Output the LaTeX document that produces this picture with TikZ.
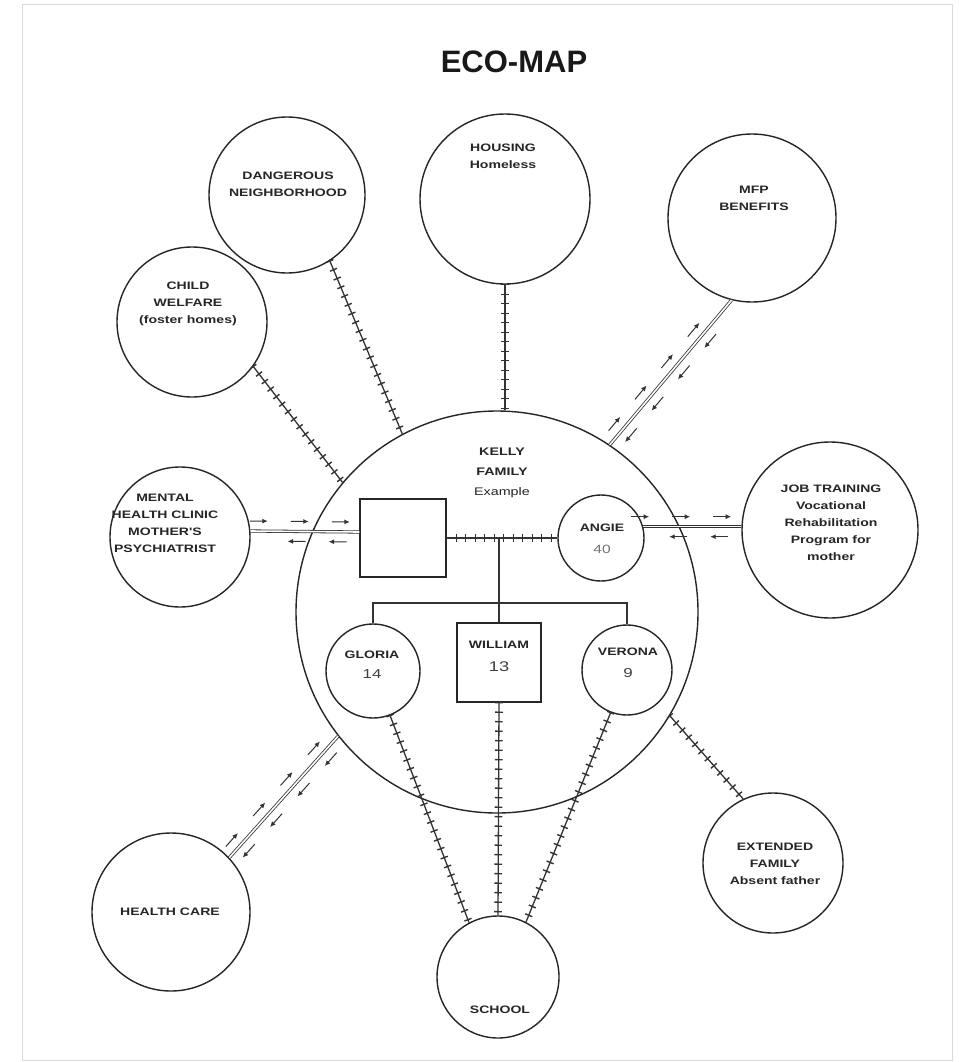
\documentclass[tikz,border=0pt]{standalone}
\usepackage{fontspec}
\setmainfont{Liberation Sans}
\newfontfamily\lab[FakeStretch=1.3]{Liberation Sans}
\usetikzlibrary{decorations.pathreplacing,decorations.markings,arrows.meta}
\begin{document}
\begin{tikzpicture}[x=1pt,y=-1pt,
  circ/.style={draw=black!85, line width=1.4pt, circle, minimum size=#1, inner sep=0pt},
  box/.style={draw=black!85, line width=1.4pt, rectangle, minimum width=#1, inner sep=0pt},
  lbl/.style={font=\lab\bfseries\fontsize{10.8}{17}\selectfont, align=center, text=black!85, inner sep=0pt},
  num/.style={font=\lab\fontsize{12}{14}\selectfont, text=black!75, inner sep=0pt},
  stress/.style={draw=black!80, line width=1.3pt,
    postaction={draw, line width=1.4pt, decorate, decoration={ticks, segment length=9.5pt, amplitude=3.8pt}}},
  energy/.style 2 args={
    preaction={draw=black!80, line width=0.8pt, double distance=1.6pt},
    postaction={decorate, decoration={markings,
      mark=between positions #1 and -3pt step 41pt with {\draw[-{Latex[length=5.5pt,width=5pt]}, line width=1pt, black!80] (-18pt,10pt) -- (0pt,10pt);},
      mark=between positions #2 and -18pt step 41pt with {\draw[-{Latex[length=5.5pt,width=5pt]}, line width=1pt, black!80] (18pt,-10pt) -- (0pt,-10pt);}}}},
]
\useasboundingbox (0,0) rectangle (958,1062);
\fill[white] (0,0) rectangle (958,1062);
\draw[black!15, line width=0.8pt] (22,4) rectangle (952,1060);

\node[font=\bfseries\fontsize{31}{34}\selectfont, text=black!90] (title) at (514,62) {ECO-MAP};

% outer systems
\node[circ=156pt] (dn)  at (287,195) {};
\node[circ=170pt] (hs)  at (505,199) {};
\node[circ=168pt] (mfp) at (752,218) {};
\node[circ=150pt] (cw)  at (192,322) {};
\node[circ=140pt] (mh)  at (180,537) {};
\node[circ=176pt] (jt)  at (830,530) {};
\node[circ=140pt] (ext) at (773,863) {};
\node[circ=122pt] (sch) at (498,977) {};
\node[circ=158pt] (hc)  at (171,912) {};
\node[circ=402pt] (main) at (497,612) {};

\node[lbl] (tdn)  at (288,184) {DANGEROUS\\NEIGHBORHOOD};
\node[lbl] (ths)  at (503,156) {HOUSING\\Homeless};
\node[lbl] (tmfp) at (754,198) {MFP\\BENEFITS};
\node[lbl] (tcw)  at (188,304) {CHILD\\WELFARE\\(foster homes)};
\node[lbl] (tmh)  at (165,523) {MENTAL\\HEALTH CLINIC\\MOTHER'S\\PSYCHIATRIST};
\node[lbl] (tjt)  at (831,523) {JOB TRAINING\\Vocational\\Rehabilitation\\Program for\\mother};
\node[lbl] (text) at (775,864) {EXTENDED\\FAMILY\\Absent father};
\node[lbl] (tsch) at (500,1010) {SCHOOL};
\node[lbl] (thc)  at (170,912) {HEALTH CARE};
\node[lbl, font=\lab\bfseries\fontsize{11}{20}\selectfont] (tkf) at (502,473) {KELLY\\FAMILY\\{\mdseries Example}};

% family
\node[box=86pt, minimum height=78pt] (father) at (403,538) {};
\node[circ=86pt] (angie)  at (601,538) {};
\node[circ=94pt] (gloria) at (373,671) {};
\node[box=84pt, minimum height=79pt] (william) at (499,662.5) {};
\node[circ=90pt] (verona) at (627,670) {};
\coordinate (sib) at (499,603);

\node[lbl] (tangie) at (602,528) {ANGIE};
\node[num, text=black!55] (nangie) at (602,549) {40};
\node[lbl] (tgloria) at (372,655) {GLORIA};
\node[num, font=\lab\fontsize{13}{14}\selectfont] (ngloria) at (372,674) {14};
\node[lbl] (twilliam) at (499,645) {WILLIAM};
\node[num, font=\lab\fontsize{14}{14}\selectfont] (nwilliam) at (499,667) {13};
\node[lbl] (tverona) at (628,652) {VERONA};
\node[num, font=\lab\fontsize{13}{14}\selectfont] (nverona) at (628,673) {9};

\draw[stress] (father.east) -- (angie.west);
\draw[draw=black!80, line width=1.1pt] (william.north |- father.east) -- (william.north);
\draw[draw=black!80, line width=1.1pt] (gloria.north) |- (sib) -| (verona.north);

% connectors
\draw[stress] (dn.-57) -- (main.118);
\draw[stress] (hs.south) -- (hs.south |- main.north);
\draw[stress] (cw.-36) -- (main.140);
\draw[stress] (main.-31) -- (ext.115);
\draw[stress] (gloria.-69) -- (sch.118);
\draw[stress] (william.south) -- (sch.north);
\draw[stress] (verona.-111) -- (sch.63);

\path[energy={28pt}{12pt}] (main.56) -- (mfp.-104);
\path[energy={17pt}{37pt}] ([yshift=6pt]mh.east) -- ([yshift=6pt]father.west);
\path[energy={6pt}{26pt}] (angie.15) -- (angie.15 -| jt.west);
\path[energy={24pt}{9pt}] (hc.43) -- (main.-142);
\end{tikzpicture}
\end{document}
